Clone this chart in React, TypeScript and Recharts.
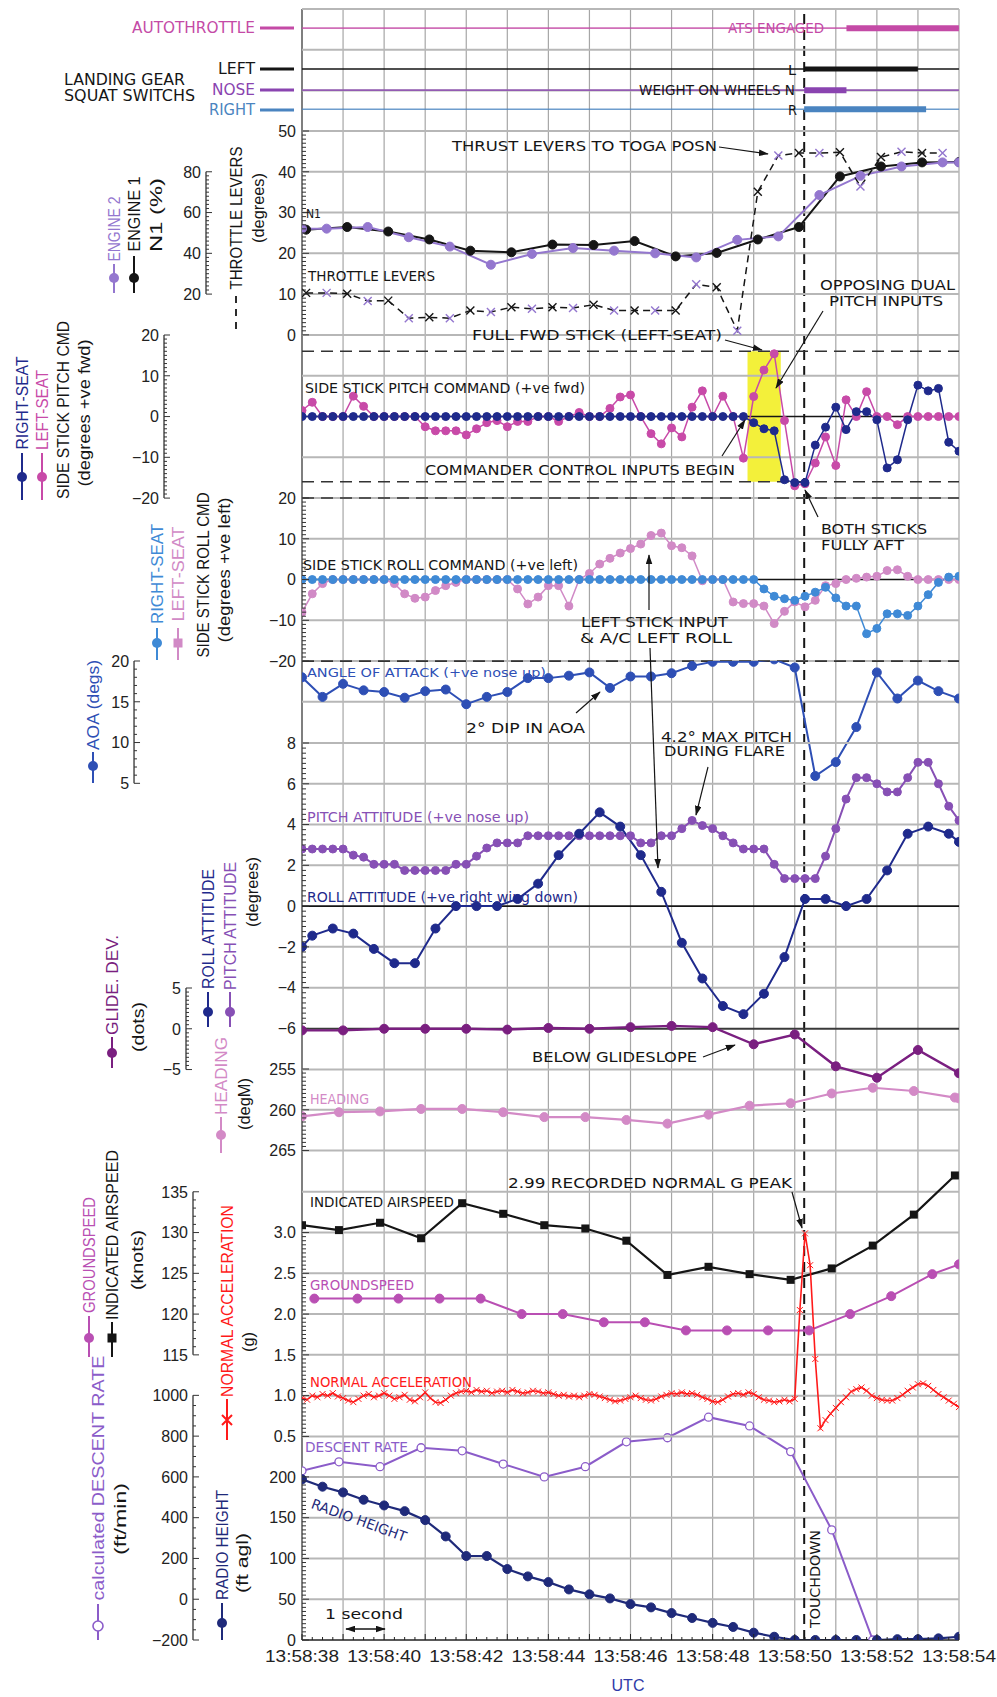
import React from "react";
import { ComposedChart, Line, XAxis, YAxis, ReferenceLine, ReferenceArea } from "recharts";

const seq = (a: number, b: number, step: number) =>
  Array.from({ length: Math.round((b - a) / step) + 1 }, (_, i) => +(a + i * step).toFixed(3));

// ---------- data, time = seconds after 13:58:00 UTC
const X_LABELS = [38, 40, 42, 44, 46, 48, 50, 52, 54];
const SECONDS = [38, 39, 40, 41, 42, 43, 44, 45, 46, 47, 48, 49, 50, 51, 52, 53, 54];
const TOUCHDOWN = 50.23;
const T2 = seq(38, 54, 0.5);
const T4 = seq(38, 54, 0.25);
const T8 = seq(38, 54, 0.125);

// discrete states [on, off]
const ATS_ENGAGED = [51.26, 54];
const WOW_LEFT = [50.23, 53.0];
const WOW_NOSE = [50.23, 51.26];
const WOW_RIGHT = [50.23, 53.2];

// throttle levers (deg), lever 1 / lever 2 samples alternate
const THR_T = [38.1, 38.6, 39.1, 39.6, 40.1, 40.6, 41.1, 41.6, 42.1, 42.6, 43.1, 43.6, 44.1, 44.6, 45.1, 45.6,
  46.1, 46.6, 47.1, 47.6, 48.1, 48.6, 49.1, 49.6, 50.1, 50.6, 51.1, 51.6, 52.1, 52.6, 53.1, 53.6];
const THR_DEG = [10.3, 10.3, 10.1, 8.3, 8.4, 4.1, 4.3, 4.1, 6.0, 5.6, 6.8, 6.4, 6.8, 6.6, 7.4, 6.0,
  6.0, 6.0, 6.0, 12.4, 11.7, 1.0, 35.1, 44.0, 44.6, 44.6, 44.8, 36.4, 43.6, 44.9, 44.6, 44.6];

// N1 (%)
const N1_E1_T = [38.1, 39.1, 40.1, 41.1, 42.1, 43.1, 44.1, 45.1, 46.1, 47.1, 48.1, 49.1, 50.1, 51.1, 52.1, 53.1, 54.0];
const N1_E1 = [51.6, 52.9, 50.7, 46.8, 41.3, 40.5, 44.3, 44.1, 46.0, 38.5, 40.2, 46.8, 52.9, 77.7, 82.6, 84.6, 84.8];
const N1_E2_T = [38.0, 38.6, 39.6, 40.6, 41.6, 42.6, 43.6, 44.6, 45.6, 46.6, 47.6, 48.6, 49.6, 50.6, 51.6, 52.6, 53.6, 54.0];
const N1_E2 = [52.1, 52.1, 52.9, 47.9, 43.3, 34.4, 39.7, 42.6, 41.3, 40.0, 38.0, 46.6, 48.3, 68.6, 78.0, 82.6, 84.6, 84.6];

// side stick pitch command (deg, +ve fwd), 4 Hz
const PCMD_LEFT = [1.5, 3.5, 0, 0, 0, 5, 2.5, 0, 0, 0, 0, 0, -2.5, -3.5, -3.5, -3.5, -4.5, -3, -1.5, -1,
  -2.5, -1.2, -1.2, 0, 0, -1.2, 0, 1, 0, 0, 2, 4.8, 5.3, 0, -4.2, -6.7, -2.8, -5, 2.3, 6.3,
  0, 5, 0, -10.2, 4.9, 11.4, 15.4, -1, -17, -16.5, -11.4, -5, -12, 4.1, 0, 6.1, 0, 0, -2, 0,
  0, 0, 0, 0, 0];
const PCMD_RIGHT = [0, 0, 0, 0, 0, 0, 0, 0, 0, 0, 0, 0, 0, 0, 0, 0, 0, 0, 0, 0, 0, 0,
  0, 0, 0, 0, 0, 0, 0, 0, 0, 0, 0, 0, 0, 0, 0, 0, 0, 0, 0, 0, 0, 0,
  -1.5, -3, -3.5, -15.5, -16.2, -16.2, -7, -2.6, 2.3, -3.2, 1.2, 1.2, -0.8, -12.6, -10.6, -0.8, 7.7, 6.3, 6.9, -6.3, -8.5];

// side stick roll command (deg, +ve left), 4 Hz
const RCMD_LEFT = [-8, -3.5, -1, 0, 0, 0, 0, 0, 0, -1, -3.5, -4.6, -4.3, -2.7, -1.5, -0.7, 0, 0, 0, 0,
  0, -2.3, -6, -4.3, -1.5, -1.5, -6.5, 0, 1.5, 3.8, 5.2, 6.5, 7.6, 8.7, 10.8, 11.4, 8.3, 7.8, 5.8, -0.3,
  0, 0, -5.5, -5.9, -5.9, -6.5, -10.8, -7.8, -5.5, -6.7, -5.1, -1.5, -1, 0, 0.3, 0.6, 0.8, 2.2, 2.4, 0.8,
  0, 0, 0, 0, 0];
const RCMD_RIGHT = [0, 0, 0, 0, 0, 0, 0, 0, 0, 0, 0, 0, 0, 0, 0, 0, 0, 0, 0, 0, 0, 0, 0,
  0, 0, 0, 0, 0, 0, 0, 0, 0, 0, 0, 0, 0, 0, 0, 0, 0, 0, 0, 0, 0, 0,
  -2.3, -4.1, -4.7, -5.1, -4.1, -3.1, -1.9, -4.5, -6.5, -6.5, -13.3, -12, -8.4, -8.4, -8.8, -6.5, -3.7, -0.7, 0.6, 0.8];

// angle of attack (deg), 2 Hz
const AOA = [18.0, 15.6, 17.2, 16.4, 16.2, 15.5, 16.3, 16.5, 14.7, 15.6, 16.2, 17.9, 17.9, 18.2, 18.6, 16.7, 18.1,
  18.1, 18.5, 19.4, 19.9, 19.9, 19.9, 20.2, 19.2, 5.9, 7.6, 11.9, 18.6, 15.4, 17.6, 16.3, 15.4];

// pitch attitude (deg), 4 Hz
const PITCH_ATT = [2.8, 2.8, 2.8, 2.8, 2.8, 2.5, 2.4, 2.05, 2.05, 2.05, 1.75, 1.75, 1.75, 1.75, 1.75, 2.05, 2.05,
  2.45, 2.85, 3.1, 3.1, 3.1, 3.45, 3.45, 3.45, 3.45, 3.45, 3.45, 3.45, 3.45, 3.45, 3.45, 3.45,
  3.1, 3.1, 3.45, 3.45, 3.8, 4.2, 3.95, 3.8, 3.45, 3.1, 2.8, 2.8, 2.8, 2.05, 1.35, 1.35, 1.35, 1.35,
  2.45, 3.8, 5.25, 6.3, 6.3, 6.0, 5.6, 5.6, 6.3, 7.05, 7.05, 6.0, 4.9, 4.2];

// roll attitude (deg, +ve right wing down)
const ROLL_T = [38.0, 38.25, 38.75, 39.25, 39.75, 40.25, 40.75, 41.25, 41.75, 42.25, 42.75, 43.25, 43.75, 44.25,
  44.75, 45.25, 45.75, 46.25, 46.75, 47.25, 47.75, 48.25, 48.75, 49.25, 49.75, 50.25, 50.75, 51.25, 51.75,
  52.25, 52.75, 53.25, 53.75, 54.0];
const ROLL_ATT = [-2.0, -1.45, -1.1, -1.35, -2.1, -2.8, -2.8, -1.1, 0, 0, 0, 0.35, 1.1, 2.5, 3.55, 4.6, 3.9, 2.5,
  0.7, -1.8, -3.55, -4.9, -5.3, -4.3, -2.5, 0.35, 0.35, 0, 0.35, 1.75, 3.55, 3.9, 3.55, 3.15];

// glide deviation (dots), 1 Hz
const GLIDE = [-0.2, -0.2, 0, 0, 0, -0.1, 0.1, 0, 0.2, 0.35, 0.2, -1.9, -0.7, -4.6, -6.0, -2.6, -5.45];

// heading (degM)
const HDG_T = [38.0, 38.9, 39.9, 40.9, 41.9, 42.9, 43.9, 44.9, 45.9, 46.9, 47.9, 48.9, 49.9, 50.9, 51.9, 52.9, 53.9, 54.0];
const HDG = [260.8, 260.3, 260.2, 259.9, 259.9, 260.3, 260.9, 260.9, 261.25, 261.7, 260.6, 259.5, 259.2, 258.0,
  257.3, 257.7, 258.5, 258.6];

// speeds (kt)
const IAS_T = [38.0, 38.9, 39.9, 40.9, 41.9, 42.9, 43.9, 44.9, 45.9, 46.9, 47.9, 48.9, 49.9, 50.9, 51.9, 52.9, 53.9];
const IAS = [130.9, 130.3, 131.2, 129.3, 133.6, 132.3, 130.9, 130.5, 129.0, 124.8, 125.8, 124.9, 124.2, 125.6,
  128.4, 132.2, 137.0];
const GSPD_T = [38.3, 39.35, 40.35, 41.35, 42.35, 43.35, 44.35, 45.35, 46.35, 47.35, 48.35, 49.35, 50.35, 51.35,
  52.35, 53.35, 54.0];
const GSPD = [121.9, 121.9, 121.9, 121.9, 121.9, 120.0, 120.0, 119.0, 119.0, 118.0, 118.0, 118.0, 118.0, 120.0,
  122.2, 124.9, 126.1];

// normal acceleration (g), 8 Hz
const NZ = [0.97, 0.95, 1.0, 0.98, 1.02, 1.0, 1.03, 0.99, 0.97, 0.94, 0.92, 0.96, 1.0, 1.02, 0.98, 1.0, 1.03,
  1.0, 0.96, 0.98, 1.01, 0.95, 0.93, 0.98, 1.04, 0.97, 0.92, 0.91, 0.95, 1.0, 1.03, 1.05, 1.06,
  1.04, 1.07, 1.05, 1.06, 1.03, 1.05, 1.06, 1.04, 1.07, 1.05, 1.03, 1.04, 1.06, 1.05, 1.03, 1.04,
  1.02, 1.0, 1.01, 0.99, 1.0, 0.98, 1.0, 1.02, 1.01, 0.99, 0.97, 0.95, 0.93, 0.94, 0.96, 0.98,
  1.0, 0.97, 0.95, 0.94, 0.96, 0.99, 1.01, 1.03, 1.02, 1.04, 1.02, 1.03, 1.01, 0.98, 0.96, 0.93,
  0.92, 0.95, 0.99, 1.02, 1.03, 1.01, 1.04, 1.02, 0.98, 0.95, 0.94, 0.92, 0.93, 0.95, 0.93, 0.96,
  2.05, 2.99, 2.6, 1.45, 0.6, 0.7, 0.78, 0.85, 0.92, 0.98, 1.05, 1.08, 1.1, 1.06, 1.0, 0.97,
  0.95, 0.94, 0.94, 0.97, 1.01, 1.06, 1.1, 1.14, 1.15, 1.12, 1.07, 1.02, 0.98, 0.94, 0.9, 0.86];

// calculated descent rate (ft/min)
const DES_T = [38.0, 38.9, 39.9, 40.9, 41.9, 42.9, 43.9, 44.9, 45.9, 46.9, 47.9, 48.9, 49.9, 50.9, 51.9];
const DES = [630, 674, 650, 743, 728, 663, 600, 650, 772, 792, 893, 850, 724, 340, -200];

// radio height (ft agl), 2 Hz
const RH = [197, 188, 181, 172, 165, 158, 147, 127, 103, 103, 87, 78, 71, 62, 56, 51, 44, 40, 33, 27, 21, 16, 9,
  4, 0, 0, 0, 0, 0, 1, 1, 2, 4];

// axis ticks / limits
const THR_TICKS = [50, 40, 30, 20, 10, 0];
const N1_TICKS = [80, 60, 40, 20];
const PCMD_TICKS = [20, 10, 0, -10, -20];
const RCMD_TICKS = [20, 10, 0, -10, -20];
const AOA_TICKS = [20, 15, 10, 5];
const ATT_TICKS = [8, 6, 4, 2, 0, -2, -4, -6];
const GLIDE_TICKS = [5, 0, -5];
const HDG_TICKS = [255, 260, 265];
const G_TICKS = [3.0, 2.5, 2.0, 1.5, 1.0, 0.5];
const IAS_TICKS = [135, 130, 125, 120, 115];
const DES_TICKS = [1000, 800, 600, 400, 200, 0, -200];
const RH_TICKS = [200, 150, 100, 50, 0];
const STICK_LIMIT = 16;
const ROLL_LIMIT = 20;
const YELLOW = [48.85, 49.66];

// ---------- layout
const W = 997;
const H = 1697;
const PL = 302;
const PR = 959;
const TOP = 9;
const ROW = 40.775;
const BOTTOM = TOP + 40 * ROW;
const rowY = (r: number) => TOP + r * ROW;

type AxMap = { rA: number; vA: number; rB: number; vB: number };
const AX: Record<string, AxMap> = {
  st: { rA: 0, vA: 0, rB: 3, vB: 3 },
  thr: { rA: 3, vA: 50, rB: 8, vB: 0 },
  n1: { rA: 3, vA: 100, rB: 8, vB: 0 },
  pc: { rA: 8, vA: 20, rB: 12, vB: -20 },
  rc: { rA: 12, vA: 20, rB: 16, vB: -20 },
  aoa: { rA: 16, vA: 20, rB: 19, vB: 5 },
  att: { rA: 18, vA: 8, rB: 25, vB: -6 },
  gl: { rA: 24, vA: 5, rB: 26, vB: -5 },
  hdg: { rA: 26, vA: 255, rB: 28, vB: 265 },
  g: { rA: 29, vA: 3.5, rB: 35, vB: 0.5 },
  ias: { rA: 29, vA: 135, rB: 33, vB: 115 },
  rh: { rA: 36, vA: 200, rB: 40, vB: 0 },
  des: { rA: 34, vA: 1000, rB: 40, vB: -200 },
};
const valAt = (m: AxMap, r: number) => m.vA + ((r - m.rA) * (m.vB - m.vA)) / (m.rB - m.rA);
const rowOf = (m: AxMap, v: number) => m.rA + ((v - m.vA) * (m.rB - m.rA)) / (m.vB - m.vA);

// ---------- style
const F_SANS = "'Liberation Sans', Arial, Helvetica, sans-serif";
const F_NARROW = "'Liberation Sans Narrow', 'DejaVu Sans Condensed', 'Arial Narrow', 'Liberation Sans', sans-serif";
const INK = "#151515";
const GRID = "#b7b7b7";
const VGRID = "#a6a6a6";
const C = {
  ats: "#c44aa6",
  nose: "#8a44b0",
  right: "#4a84c0",
  e2: "#9477cf",
  pL: "#c84aa8",
  pR: "#1f2a8c",
  rL: "#d18ac6",
  rR: "#3f8ad6",
  aoa: "#2e4fb5",
  patt: "#8750b5",
  ratt: "#1f2a8c",
  glide: "#7a1f80",
  hdg: "#d38ac6",
  gspd: "#b94fb3",
  nz: "#ff1a1a",
  des: "#8b5cc9",
  rh: "#1f2a7a",
  utc: "#2f3aa8",
};

const pts = (ts: number[], vs: number[]) => ts.map((t, i) => ({ t, v: vs[i] }));
const near = (list: number[], v: number) => list.some((l) => Math.abs(l - v) < 1e-6);
const num = (v: number) => (v < 0 ? "\u2212" + Math.abs(v) : String(v));
const fix1 = (v: number) => v.toFixed(1);

function edgeTick(labels: number[], fmt: (v: number) => string) {
  return (p: any) => {
    const v = p.payload.value;
    const major = near(labels, v);
    return (
      <g>
        <line x1={PL} x2={PL + (major ? 7 : 4)} y1={p.y} y2={p.y} stroke="#333" strokeWidth={1} />
        {major && (
          <text x={PL - 6} y={p.y} dy="0.36em" textAnchor="end" fontSize={16} fontFamily={F_SANS} fill="#222">
            {fmt(v)}
          </text>
        )}
      </g>
    );
  };
}

function sideTick(labels: number[], fmt: (v: number) => string, spineX: number, m: AxMap) {
  const hi = Math.max(...labels);
  const lo = Math.min(...labels);
  const spineLen = (rowOf(m, lo) - rowOf(m, hi)) * ROW;
  return (p: any) => {
    const v = p.payload.value;
    const major = near(labels, v);
    return (
      <g>
        {Math.abs(v - hi) < 1e-6 && (
          <line x1={spineX} x2={spineX} y1={p.y} y2={p.y + spineLen} stroke="#333" strokeWidth={1.3} />
        )}
        <line x1={spineX} x2={spineX + (major ? 6 : 3)} y1={p.y} y2={p.y} stroke="#333" strokeWidth={1} />
        {major && (
          <text x={spineX - 5} y={p.y} dy="0.36em" textAnchor="end" fontSize={16} fontFamily={F_SANS} fill="#222">
            {fmt(v)}
          </text>
        )}
      </g>
    );
  };
}

const minorTicks = (labels: number[], step: number) => seq(Math.min(...labels), Math.max(...labels), step);

function yAx(id: string, c0: number, c1: number, extra: any) {
  const m = AX[id];
  const a = valAt(m, c0);
  const b = valAt(m, c1);
  const domain = a > b ? [b, a] : [a, b];
  return (
    <YAxis key={id} yAxisId={id} type="number" domain={domain} reversed={a < b} allowDataOverflow
      axisLine={false} tickLine={false} interval={0} {...extra} />
  );
}
const edgeAx = (id: string, c0: number, c1: number, labels: number[], minor: number, fmt = num) =>
  yAx(id, c0, c1, { width: 100, ticks: minorTicks(labels, minor), tick: edgeTick(labels, fmt) });
const sideAx = (id: string, c0: number, c1: number, labels: number[], minor: number, spineX: number, fmt = num) =>
  yAx(id, c0, c1, { width: 100, ticks: minorTicks(labels, minor), tick: sideTick(labels, fmt, spineX, AX[id]) });

const hLines = (id: string, vals: number[], stroke = GRID, width = 2, dash?: string) =>
  vals.map((v) => (
    <ReferenceLine key={`${id}-${v}-${dash || ""}-${stroke}`} yAxisId={id} y={v} stroke={stroke}
      strokeWidth={width} strokeDasharray={dash} />
  ));

const dot = (c: string, r = 4) => ({ r, fill: c, stroke: c, strokeWidth: 1 });
const xMark = (pick: (i: number) => string, s = 4, w = 1.4) => (p: any) => {
  if (p.cx == null || p.cy == null) return <g key={`n${p.index}`} />;
  const { cx, cy } = p;
  return (
    <path key={`x${p.index}`} d={`M${cx - s},${cy - s}L${cx + s},${cy + s}M${cx - s},${cy + s}L${cx + s},${cy - s}`}
      stroke={pick(p.index)} strokeWidth={w} fill="none" />
  );
};
const sqMark = (c: string) => (p: any) => {
  if (p.cx == null || p.cy == null) return <g key={`n${p.index}`} />;
  return <rect key={`s${p.index}`} x={p.cx - 4} y={p.cy - 4} width={8} height={8} fill={c} />;
};

function Panel({ c0, c1, left, children }: { c0: number; c1: number; left: number; children: React.ReactNode }) {
  const h = (c1 - c0) * ROW;
  return (
    <div style={{ position: "absolute", left: 0, top: rowY(c0), width: W, height: h }}>
      <ComposedChart width={W} height={h} margin={{ top: 0, right: W - PR, bottom: 0, left }}>
        <XAxis type="number" dataKey="t" domain={[38, 54]} allowDataOverflow hide />
        {children}
      </ComposedChart>
    </div>
  );
}

const xTick = (p: any) => {
  const v = p.payload.value;
  const major = near(X_LABELS, v);
  const whole = Math.abs(v - Math.round(v)) < 1e-6;
  return (
    <g>
      <line x1={p.x} x2={p.x} y1={BOTTOM} y2={BOTTOM - (whole ? 6 : 3)} stroke="#222" strokeWidth={1} />
      {major && (
        <text x={p.x} y={BOTTOM + 16} dy="0.36em" textAnchor="middle" fontSize={17} fontFamily={F_SANS} fill="#222"
          textLength={74} lengthAdjust="spacingAndGlyphs">{`13:58:${v}`}</text>
      )}
    </g>
  );
};

// ---------- overlay helpers
const Tx = ({ x, y, w, s = 14, c = INK, a = "start", rot = 0, children }: any) => (
  <text x={x} y={y} dy="0.36em" fontSize={s} fill={c} textAnchor={a} fontFamily={F_NARROW}
    textLength={w} lengthAdjust="spacingAndGlyphs" transform={rot ? `rotate(${rot} ${x} ${y})` : undefined}>
    {children}
  </text>
);
const VTx = ({ x, y, w, s = 16, c = INK, children }: any) => (
  <text transform={`translate(${x} ${y}) rotate(-90)`} dy="0.36em" fontSize={s} fill={c} textAnchor="middle"
    fontFamily={F_SANS} textLength={w} lengthAdjust="spacingAndGlyphs">
    {children}
  </text>
);
const VMark = ({ x, y0, y1, ym, c, kind = "dot" }: any) => (
  <g>
    <line x1={x} x2={x} y1={y0} y2={y1} stroke={c} strokeWidth={2} />
    {kind === "dot" && <circle cx={x} cy={ym} r={5} fill={c} />}
    {kind === "sq" && <rect x={x - 4.5} y={ym - 4.5} width={9} height={9} fill={c} />}
    {kind === "ring" && <circle cx={x} cy={ym} r={5} fill="#fff" stroke={c} strokeWidth={1.6} />}
    {kind === "x" && (
      <path d={`M${x - 5},${ym - 5}L${x + 5},${ym + 5}M${x - 5},${ym + 5}L${x + 5},${ym - 5}`} stroke={c} strokeWidth={2} />
    )}
  </g>
);
const Ar = ({ x1, y1, x2, y2 }: any) => (
  <line x1={x1} y1={y1} x2={x2} y2={y2} stroke={INK} strokeWidth={1.2} markerEnd="url(#ah)" />
);
const HLeg = ({ y, c }: any) => <line x1={260} x2={294} y1={y} y2={y} stroke={c} strokeWidth={3} />;

function Overlay() {
  return (
    <svg width={W} height={H} style={{ position: "absolute", left: 0, top: 0, pointerEvents: "none" }}>
      <defs>
        <marker id="ah" viewBox="0 0 12 8" refX="11" refY="4" markerWidth="10" markerHeight="7" orient="auto-start-reverse"
          markerUnits="userSpaceOnUse">
          <path d="M0,0 L12,4 L0,8 z" fill={INK} />
        </marker>
      </defs>

      {/* discrete signals */}
      <Tx x={255} y={28} w={123} s={15} c={C.ats} a="end">AUTOTHROTTLE</Tx>
      <HLeg y={28} c={C.ats} />
      <Tx x={255} y={69} w={37} s={15} a="end">LEFT</Tx>
      <HLeg y={69} c={INK} />
      <Tx x={255} y={90} w={43} s={15} c={C.nose} a="end">NOSE</Tx>
      <HLeg y={90} c={C.nose} />
      <Tx x={255} y={110} w={46} s={15} c={C.right} a="end">RIGHT</Tx>
      <HLeg y={110} c={C.right} />
      <Tx x={64} y={80} w={121} s={15}>LANDING GEAR</Tx>
      <Tx x={64} y={96} w={131} s={15}>SQUAT SWITCHS</Tx>
      <Tx x={728} y={28} w={96} c={C.ats}>ATS ENGAGED</Tx>
      <Tx x={788} y={70} w={8}>L</Tx>
      <Tx x={639} y={90} w={156}>WEIGHT ON WHEELS N</Tx>
      <Tx x={788} y={110} w={9}>R</Tx>

      {/* throttle / N1 */}
      <VTx x={114} y={229} w={65} c={C.e2}>ENGINE 2</VTx>
      <VMark x={114} y0={264} y1={293} ym={278} c={C.e2} />
      <VTx x={134} y={214} w={75}>ENGINE 1</VTx>
      <VMark x={134} y0={256} y1={293} ym={278} c={INK} />
      <VTx x={156} y={215} w={74}>N1  (%)</VTx>
      <VTx x={236} y={218} w={143}>THROTTLE LEVERS</VTx>
      <line x1={236} x2={236} y1={296} y2={334} stroke={INK} strokeWidth={1.8} strokeDasharray="7 6" />
      <VTx x={258} y={208} w={70}>(degrees)</VTx>
      <Tx x={452} y={146} w={265}>THRUST LEVERS TO TOGA POSN</Tx>
      <Ar x1={719} y1={147} x2={768} y2={154} />
      <Tx x={306} y={214} w={15} s={12}>N1</Tx>
      <Tx x={308} y={276} w={127}>THROTTLE LEVERS</Tx>
      <Tx x={820} y={285} w={135}>OPPOSING DUAL</Tx>
      <Tx x={829} y={301} w={114}>PITCH INPUTS</Tx>
      <Ar x1={823} y1={311} x2={776} y2={388} />

      {/* side stick pitch */}
      <VTx x={22} y={403} w={93} c={C.pR}>RIGHT-SEAT</VTx>
      <VMark x={22} y0={453} y1={500} ym={477} c={C.pR} />
      <VTx x={42} y={410} w={80} c={C.pL}>LEFT-SEAT</VTx>
      <VMark x={42} y0={453} y1={500} ym={477} c={C.pL} />
      <VTx x={63} y={410} w={178}>SIDE STICK PITCH CMD</VTx>
      <VTx x={84} y={413} w={147}>(degrees  +ve fwd)</VTx>
      <Tx x={472} y={335} w={250}>FULL FWD STICK (LEFT-SEAT)</Tx>
      <Ar x1={725} y1={340} x2={762} y2={350} />
      <Tx x={305} y={388} w={280}>SIDE STICK PITCH COMMAND (+ve fwd)</Tx>
      <Tx x={425} y={470} w={310}>COMMANDER CONTROL INPUTS BEGIN</Tx>
      <Ar x1={722} y1={456} x2={745} y2={420} />

      {/* side stick roll */}
      <VTx x={157} y={574} w={100} c={C.rR}>RIGHT-SEAT</VTx>
      <VMark x={157} y0={628} y1={660} ym={643} c={C.rR} />
      <VTx x={178} y={574} w={95} c={C.rL}>LEFT-SEAT</VTx>
      <VMark x={178} y0={628} y1={660} ym={643} c={C.rL} kind="sq" />
      <VTx x={203} y={575} w={165}>SIDE STICK ROLL CMD</VTx>
      <VTx x={224} y={570} w={145}>(degrees  +ve left)</VTx>
      <Tx x={821} y={529} w={106}>BOTH STICKS</Tx>
      <Tx x={821} y={545} w={83}>FULLY AFT</Tx>
      <Ar x1={818} y1={517} x2={805} y2={490} />
      <Tx x={303} y={565} w={275}>SIDE STICK ROLL COMMAND (+ve left)</Tx>
      <Tx x={581} y={622} w={147}>LEFT STICK INPUT</Tx>
      <Tx x={580} y={638} w={152}>&amp; A/C LEFT ROLL</Tx>
      <Ar x1={649} y1={610} x2={649} y2={555} />
      <Ar x1={650} y1={648} x2={658} y2={868} />

      {/* AOA */}
      <VTx x={93} y={705} w={90} c={C.aoa}>AOA  (degs)</VTx>
      <VMark x={93} y0={752} y1={783} ym={766} c={C.aoa} />
      <Tx x={307} y={672} w={239} s={13} c={C.aoa}>ANGLE OF ATTACK (+ve nose up)</Tx>
      <Tx x={466} y={728} w={119}>2° DIP IN AOA</Tx>
      <Ar x1={576} y1={713} x2={600} y2={692} />
      <Tx x={661} y={737} w={131}>4.2° MAX PITCH</Tx>
      <Tx x={664} y={751} w={121}>DURING FLARE</Tx>
      <Ar x1={708} y1={767} x2={696} y2={815} />

      {/* attitudes */}
      <VTx x={208} y={929} w={120} c={C.ratt}>ROLL ATTITUDE</VTx>
      <VMark x={208} y0={992} y1={1027} ym={1012} c={C.ratt} />
      <VTx x={230} y={926} w={128} c={C.patt}>PITCH ATTITUDE</VTx>
      <VMark x={230} y0={992} y1={1027} ym={1012} c={C.patt} />
      <VTx x={252} y={892} w={70}>(degrees)</VTx>
      <Tx x={307} y={817} w={222} c={C.patt}>PITCH ATTITUDE (+ve nose up)</Tx>
      <Tx x={307} y={897} w={271} c={C.ratt}>ROLL ATTITUDE (+ve right wing down)</Tx>

      {/* glide / heading */}
      <VTx x={112} y={985} w={100} c={C.glide}>GLIDE. DEV.</VTx>
      <VMark x={112} y0={1037} y1={1068} ym={1053} c={C.glide} />
      <VTx x={138} y={1027} w={50}>(dots)</VTx>
      <Tx x={532} y={1057} w={165}>BELOW GLIDESLOPE</Tx>
      <Ar x1={703} y1={1057} x2={735} y2={1045} />
      <VTx x={221} y={1076} w={78} c={C.hdg}>HEADING</VTx>
      <VMark x={221} y0={1117} y1={1153} ym={1135} c={C.hdg} />
      <VTx x={244} y={1104} w={52}>(degM)</VTx>
      <Tx x={310} y={1099} w={59} c={C.hdg}>HEADING</Tx>

      {/* speeds / g */}
      <VTx x={89} y={1255} w={116} c={C.gspd}>GROUNDSPEED</VTx>
      <VMark x={89} y0={1316} y1={1357} ym={1338} c={C.gspd} />
      <VTx x={112} y={1235} w={170}>INDICATED  AIRSPEED</VTx>
      <VMark x={112} y0={1322} y1={1357} ym={1338} c={INK} kind="sq" />
      <VTx x={137} y={1260} w={60}>(knots)</VTx>
      <VTx x={227} y={1301} w={192} c={C.nz}>NORMAL ACCELERATION</VTx>
      <VMark x={227} y0={1399} y1={1440} ym={1420} c={C.nz} kind="x" />
      <VTx x={248} y={1342} w={20}>(g)</VTx>
      <Tx x={508} y={1183} w={284}>2.99 RECORDED NORMAL G PEAK</Tx>
      <Ar x1={792} y1={1192} x2={802} y2={1228} />
      <Tx x={310} y={1202} w={144}>INDICATED AIRSPEED</Tx>
      <Tx x={310} y={1285} w={104} c={C.gspd}>GROUNDSPEED</Tx>
      <Tx x={310} y={1382} w={162} c={C.nz}>NORMAL ACCELERATION</Tx>

      {/* descent / radio height */}
      <VTx x={98} y={1478} w={245} c={C.des}>calculated  DESCENT RATE</VTx>
      <VMark x={98} y0={1604} y1={1640} ym={1626} c={C.des} kind="ring" />
      <VTx x={120} y={1519} w={72}>(ft/min)</VTx>
      <VTx x={222} y={1545} w={110} c={C.rh}>RADIO HEIGHT</VTx>
      <VMark x={222} y0={1603} y1={1640} ym={1623} c={C.rh} />
      <VTx x={242} y={1563} w={60}>(ft agl)</VTx>
      <Tx x={305} y={1447} w={103} c={C.des}>DESCENT RATE</Tx>
      <Tx x={312} y={1503} w={100} c={C.rh} rot={20}>RADIO HEIGHT</Tx>
      <text transform="translate(815 1579) rotate(-90)" dy="0.36em" textAnchor="middle" fontSize={14}
        fontFamily={F_NARROW} fill={INK} textLength={98} lengthAdjust="spacingAndGlyphs">TOUCHDOWN</text>
      <Tx x={325} y={1614} w={78}>1  second</Tx>
      <line x1={346} x2={385} y1={1629} y2={1629} stroke={INK} strokeWidth={1.5}
        markerStart="url(#ah)" markerEnd="url(#ah)" />
      <text x={628} y={1685} dy="0.36em" textAnchor="middle" fontSize={16} fontFamily={F_SANS} fill={C.utc}>UTC</text>
    </svg>
  );
}

const CSS = "body{margin:0} .recharts-surface{overflow:visible}";

export default function App() {
  const lv = { ats: 0.47, left: 1.47, nose: 1.99, right: 2.46 };
  const seg = (on: number[], level: number) => [{ t: on[0], v: level }, { t: on[1], v: level }];
  return (
    <div style={{ position: "relative", width: W, height: H, background: "#fff" }}>
      <style>{CSS}</style>

      {/* frame: time grid, touchdown, x axis, radio height and descent rate */}
      <div style={{ position: "absolute", left: 0, top: 0 }}>
        <ComposedChart width={W} height={H} margin={{ top: TOP, right: W - PR, bottom: 0, left: PL - 200 }}>
          <XAxis type="number" dataKey="t" domain={[38, 54]} allowDataOverflow ticks={seq(38, 54, 0.25)} interval={0}
            tick={xTick} tickLine={false} axisLine={{ stroke: "#222", strokeWidth: 1.5 }} height={H - BOTTOM} />
          {edgeAx("rh", 0, 40, RH_TICKS, 5)}
          {sideAx("des", 0, 40, DES_TICKS, 50, 193)}
          {SECONDS.map((s) => (
            <ReferenceLine key={`v${s}`} yAxisId="rh" x={s} stroke={s === 38 ? "#555" : VGRID}
              strokeWidth={s === 38 ? 1.5 : 1.2} />
          ))}
          {hLines("rh", [200, 150, 100, 50])}
          <ReferenceLine yAxisId="rh" x={TOUCHDOWN} stroke={INK} strokeWidth={2} strokeDasharray="10 6" />
          <Line yAxisId="des" data={pts(DES_T, DES)} dataKey="v" type="linear" stroke={C.des} strokeWidth={2}
            dot={{ r: 4, fill: "#fff", stroke: C.des, strokeWidth: 1.3 }} isAnimationActive={false} />
          <Line yAxisId="rh" data={pts(T2, RH)} dataKey="v" type="linear" stroke={C.rh} strokeWidth={2.2}
            dot={dot(C.rh, 4.5)} isAnimationActive={false} />
        </ComposedChart>
      </div>

      {/* discrete signals */}
      <Panel c0={0} c1={3} left={PL}>
        {yAx("st", 0, 3, { hide: true, width: 0 })}
        {hLines("st", [0, 1, 2])}
        <ReferenceLine yAxisId="st" y={lv.ats} stroke={C.ats} strokeWidth={1.6} strokeOpacity={0.8} />
        <ReferenceLine yAxisId="st" y={lv.left} stroke={INK} strokeWidth={1.5} />
        <ReferenceLine yAxisId="st" y={lv.nose} stroke={C.nose} strokeWidth={1.6} strokeOpacity={0.8} />
        <ReferenceLine yAxisId="st" y={lv.right} stroke={C.right} strokeWidth={1.6} strokeOpacity={0.8} />
        <Line yAxisId="st" data={seg(ATS_ENGAGED, lv.ats)} dataKey="v" stroke={C.ats} strokeWidth={6} dot={false}
          isAnimationActive={false} />
        <Line yAxisId="st" data={seg(WOW_LEFT, lv.left)} dataKey="v" stroke={INK} strokeWidth={5} dot={false}
          isAnimationActive={false} />
        <Line yAxisId="st" data={seg(WOW_NOSE, lv.nose)} dataKey="v" stroke={C.nose} strokeWidth={6} dot={false}
          isAnimationActive={false} />
        <Line yAxisId="st" data={seg(WOW_RIGHT, lv.right)} dataKey="v" stroke={C.right} strokeWidth={6} dot={false}
          isAnimationActive={false} />
      </Panel>

      {/* throttle levers and N1 */}
      <Panel c0={3} c1={8} left={PL - 200}>
        {edgeAx("thr", 3, 8, THR_TICKS, 1)}
        {sideAx("n1", 3, 8, N1_TICKS, 2, 206)}
        {hLines("thr", THR_TICKS)}
        <Line yAxisId="n1" data={pts(N1_E1_T, N1_E1)} dataKey="v" stroke={INK} strokeWidth={2} dot={dot(INK, 4.5)}
          isAnimationActive={false} />
        <Line yAxisId="n1" data={pts(N1_E2_T, N1_E2)} dataKey="v" stroke={C.e2} strokeWidth={2} dot={dot(C.e2, 4.5)}
          isAnimationActive={false} />
        <Line yAxisId="thr" data={pts(THR_T, THR_DEG)} dataKey="v" stroke={INK} strokeWidth={1.5}
          strokeDasharray="7 5" dot={xMark((i) => (i % 2 === 0 ? INK : C.e2))} isAnimationActive={false} />
      </Panel>

      {/* side stick pitch */}
      <Panel c0={8} c1={12} left={PL - 100}>
        {sideAx("pc", 8, 12, PCMD_TICKS, 1, 164)}
        <ReferenceArea yAxisId="pc" x1={YELLOW[0]} x2={YELLOW[1]} y1={-STICK_LIMIT} y2={STICK_LIMIT}
          fill="#f3f03a" fillOpacity={1} stroke="none" />
        {hLines("pc", [10, -10])}
        {hLines("pc", [0], INK, 1.6)}
        {hLines("pc", [STICK_LIMIT, -STICK_LIMIT], "#333", 1.6, "12 7")}
        <Line yAxisId="pc" data={pts(T4, PCMD_LEFT)} dataKey="v" stroke={C.pL} strokeWidth={1.5} dot={dot(C.pL, 4)}
          isAnimationActive={false} />
        <Line yAxisId="pc" data={pts(T4, PCMD_RIGHT)} dataKey="v" stroke={C.pR} strokeWidth={1.5} dot={dot(C.pR, 4)}
          isAnimationActive={false} />
      </Panel>

      {/* side stick roll */}
      <Panel c0={12} c1={16} left={PL - 100}>
        {edgeAx("rc", 12, 16, RCMD_TICKS, 1)}
        {hLines("rc", RCMD_TICKS.filter((v) => v !== 0))}
        {hLines("rc", [0], INK, 1.6)}
        {hLines("rc", [ROLL_LIMIT, -ROLL_LIMIT], "#333", 1.6, "12 7")}
        <Line yAxisId="rc" data={pts(T4, RCMD_LEFT)} dataKey="v" stroke={C.rL} strokeWidth={1.5} dot={dot(C.rL, 4)}
          isAnimationActive={false} />
        <Line yAxisId="rc" data={pts(T4, RCMD_RIGHT)} dataKey="v" stroke={C.rR} strokeWidth={1.5} dot={dot(C.rR, 4)}
          isAnimationActive={false} />
      </Panel>

      {/* angle of attack */}
      <Panel c0={16} c1={19.2} left={PL - 100}>
        {sideAx("aoa", 16, 19.2, AOA_TICKS, 1, 134)}
        {hLines("aoa", [15])}
        <Line yAxisId="aoa" data={pts(T2, AOA)} dataKey="v" stroke={C.aoa} strokeWidth={2} dot={dot(C.aoa, 4.5)}
          isAnimationActive={false} />
      </Panel>

      {/* pitch and roll attitude */}
      <Panel c0={18} c1={25} left={PL - 100}>
        {edgeAx("att", 18, 25, ATT_TICKS, 0.25)}
        {hLines("att", [8, 6, 4, 2, -2, -4])}
        {hLines("att", [0], INK, 1.6)}
        <Line yAxisId="att" data={pts(T4, PITCH_ATT)} dataKey="v" stroke={C.patt} strokeWidth={2}
          dot={dot(C.patt, 4)} isAnimationActive={false} />
        <Line yAxisId="att" data={pts(ROLL_T, ROLL_ATT)} dataKey="v" stroke={C.ratt} strokeWidth={2}
          dot={dot(C.ratt, 4.5)} isAnimationActive={false} />
      </Panel>

      {/* glide deviation */}
      <Panel c0={24} c1={26.4} left={PL - 100}>
        {sideAx("gl", 24, 26.4, GLIDE_TICKS, 0.5, 186)}
        {hLines("gl", [-5])}
        {hLines("gl", [0], "#3a3a3a", 2)}
        <Line yAxisId="gl" data={pts(SECONDS, GLIDE)} dataKey="v" stroke={C.glide} strokeWidth={2.4}
          dot={dot(C.glide, 4.5)} isAnimationActive={false} />
      </Panel>

      {/* heading */}
      <Panel c0={26} c1={28} left={PL - 100}>
        {edgeAx("hdg", 26, 28, HDG_TICKS, 0.5)}
        {hLines("hdg", [260, 265])}
        <Line yAxisId="hdg" data={pts(HDG_T, HDG)} dataKey="v" stroke={C.hdg} strokeWidth={2.2} dot={dot(C.hdg, 4.5)}
          isAnimationActive={false} />
      </Panel>

      {/* airspeeds and normal acceleration */}
      <Panel c0={28} c1={35} left={PL - 200}>
        {edgeAx("g", 28, 35, G_TICKS, 0.05, fix1)}
        {sideAx("ias", 28, 35, IAS_TICKS, 1, 193)}
        {hLines("g", [3.5, 3.0, 2.5, 2.0, 1.5, 1.0, 0.5])}
        <Line yAxisId="ias" data={pts(IAS_T, IAS)} dataKey="v" stroke={INK} strokeWidth={2.2} dot={sqMark(INK)}
          isAnimationActive={false} />
        <Line yAxisId="ias" data={pts(GSPD_T, GSPD)} dataKey="v" stroke={C.gspd} strokeWidth={2}
          dot={dot(C.gspd, 4.5)} isAnimationActive={false} />
        <Line yAxisId="g" data={pts(T8, NZ)} dataKey="v" stroke={C.nz} strokeWidth={1.6}
          dot={xMark(() => C.nz, 3, 1)} isAnimationActive={false} />
      </Panel>

      <Overlay />
    </div>
  );
}
